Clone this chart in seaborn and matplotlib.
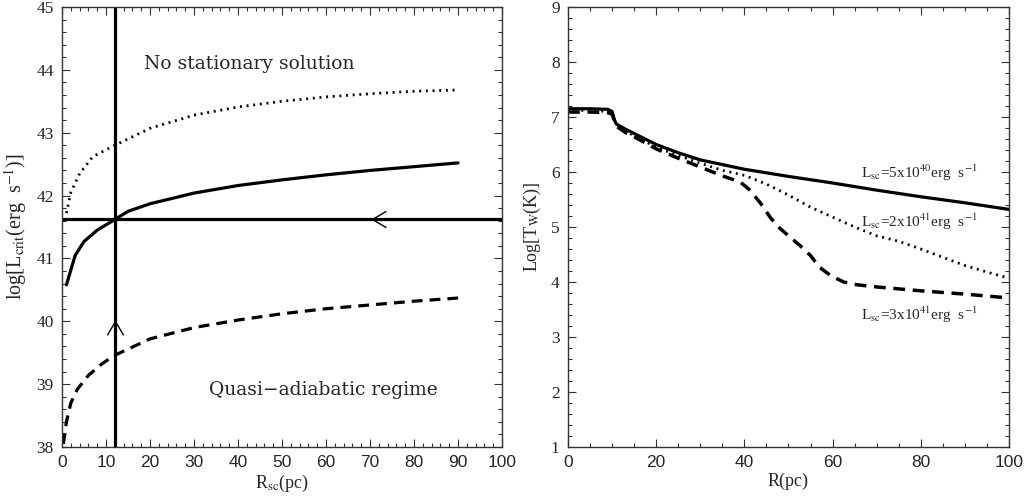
import numpy as np
import pandas as pd
import matplotlib
matplotlib.use("Agg")
import matplotlib.pyplot as plt
import matplotlib.path as mpath
from matplotlib.ticker import MultipleLocator
import seaborn as sns

# ---------------- data ----------------
# left panel: critical luminosity vs cluster radius
rsc_solid = [1, 3, 5, 8, 12, 15, 20, 30, 40, 50, 60, 70, 80, 90]
lcrit_solid = [40.58, 41.05, 41.27, 41.45, 41.62, 41.75, 41.87, 42.04, 42.16, 42.25, 42.33, 42.40, 42.46, 42.52]

rsc_dotted = [1, 2, 4, 7, 12, 20, 30, 40, 50, 60, 70, 80, 90]
lcrit_dotted = [41.72, 42.05, 42.35, 42.62, 42.80, 43.07, 43.28, 43.41, 43.50, 43.57, 43.62, 43.66, 43.68]

rsc_dashed = [0.3, 1, 2, 3.5, 6, 9, 12, 20, 30, 40, 50, 60, 70, 80, 90]
lcrit_dashed = [38.05, 38.4, 38.7, 38.92, 39.14, 39.32, 39.46, 39.72, 39.9, 40.02, 40.12, 40.2, 40.26, 40.32, 40.37]

crit_R = 12.0
crit_L = 41.62
arrow_left = (70.5, crit_L)
arrow_up = (crit_R, 40.0)

# right panel: wind temperature vs radius
R_solid = [0, 5, 9, 10, 10.5, 11, 13, 15, 20, 25, 30, 40, 50, 60, 70, 80, 90, 100]
T_solid = [7.15, 7.15, 7.14, 7.1, 6.95, 6.87, 6.78, 6.7, 6.5, 6.35, 6.22, 6.05, 5.92, 5.8, 5.67, 5.55, 5.44, 5.32]

R_dotted = [0, 5, 9, 10, 11, 13, 15, 20, 25, 30, 35, 40, 45, 50, 55, 60, 65, 70, 75, 80, 85, 90, 95, 100]
T_dotted = [7.12, 7.12, 7.1, 7.07, 6.85, 6.74, 6.66, 6.45, 6.3, 6.16, 6.03, 5.94, 5.78, 5.58, 5.36, 5.18,
            5.0, 4.84, 4.74, 4.6, 4.45, 4.3, 4.18, 4.07]

R_dashed = [0, 5, 9, 10, 11, 13, 15, 20, 25, 30, 35, 39, 41, 43.5, 46, 48, 50, 52.5, 55, 57, 59.5,
            62.5, 65.5, 70, 80, 90, 100]
T_dashed = [7.09, 7.09, 7.08, 7.05, 6.83, 6.72, 6.64, 6.42, 6.25, 6.09, 5.93, 5.82, 5.69, 5.45, 5.16,
            4.98, 4.84, 4.67, 4.48, 4.27, 4.12, 4.0, 3.95, 3.91, 3.84, 3.78, 3.71]

labels_right = [r"L$_{\rm sc}$=5x10$^{40}$erg  s$^{-1}$",
                r"L$_{\rm sc}$=2x10$^{41}$erg  s$^{-1}$",
                r"L$_{\rm sc}$=3x10$^{41}$erg  s$^{-1}$"]
labels_right_y = [5.98, 5.09, 3.4]

# ---------------- style ----------------
sns.set_style("ticks")
plt.rcParams["font.family"] = ["Liberation Serif", "DejaVu Serif"]
plt.rcParams["mathtext.fontset"] = "stix"

fig = plt.figure(figsize=(10.32, 4.97), dpi=100)
ax1 = fig.add_axes([0.0601, 0.1006, 0.4264, 0.8853])
ax2 = fig.add_axes([0.5504, 0.1006, 0.4273, 0.8853])

K = "black"
DOTS = (0, (0.7, 1.7))
DASH = (0, (3.4, 2.2))

# open chevron markers for the arrow heads
codes = [mpath.Path.MOVETO, mpath.Path.LINETO, mpath.Path.LINETO]
chev_left = mpath.Path([(1.7, 1), (0, 0), (1.7, -1)], codes)
chev_up = mpath.Path([(-1, -1.7), (0, 0), (1, -1.7)], codes)

# ---- left panel ----
sns.lineplot(x=rsc_solid, y=lcrit_solid, ax=ax1, color=K, lw=2.3, sort=False)
sns.lineplot(x=rsc_dotted, y=lcrit_dotted, ax=ax1, color=K, lw=2.0, sort=False, linestyle=DOTS)
sns.lineplot(x=rsc_dashed, y=lcrit_dashed, ax=ax1, color=K, lw=2.3, sort=False, linestyle=DASH)
ax1.axhline(crit_L, color=K, lw=2.3)
ax1.axvline(crit_R, color=K, lw=2.3)
ax1.plot([arrow_left[0]], [arrow_left[1]], marker=chev_left, ms=20, mfc="none", mec=K, mew=1.0, ls="none")
ax1.plot([arrow_up[0]], [arrow_up[1]], marker=chev_up, ms=20, mfc="none", mec=K, mew=1.0, ls="none")

ax1.text(42.6, 44.1, "No stationary solution", ha="center", va="center",
         fontsize=13.5, family="DejaVu Serif")
ax1.text(59.3, 38.9, "Quasi\u2212adiabatic regime", ha="center", va="center",
         fontsize=13.5, family="DejaVu Serif")

ax1.set_xlim(0, 100)
ax1.set_ylim(38, 45)
ax1.xaxis.set_major_locator(MultipleLocator(10))
ax1.xaxis.set_minor_locator(MultipleLocator(2))
ax1.yaxis.set_major_locator(MultipleLocator(1))
ax1.yaxis.set_minor_locator(MultipleLocator(0.2))
ax1.set_xlabel(r"R$_{\rm sc}$(pc)", fontsize=13, labelpad=2)
ax1.set_ylabel(r"log[L$_{\rm crit}$(erg  s$^{-1}$)]", fontsize=14.5, labelpad=5)

# ---- right panel ----
sns.lineplot(x=R_solid, y=T_solid, ax=ax2, color=K, lw=2.3, sort=False)
sns.lineplot(x=R_dotted, y=T_dotted, ax=ax2, color=K, lw=2.0, sort=False, linestyle=DOTS)
sns.lineplot(x=R_dashed, y=T_dashed, ax=ax2, color=K, lw=2.5, sort=False, linestyle=DASH)
for lab, yy in zip(labels_right, labels_right_y):
    ax2.text(93, yy, lab, ha="right", va="center", fontsize=11)

ax2.set_xlim(0, 100)
ax2.set_ylim(1, 9)
ax2.xaxis.set_major_locator(MultipleLocator(20))
ax2.xaxis.set_minor_locator(MultipleLocator(5))
ax2.yaxis.set_major_locator(MultipleLocator(1))
ax2.yaxis.set_minor_locator(MultipleLocator(0.2))
ax2.set_xlabel("R(pc)", fontsize=13, labelpad=2)
ax2.set_ylabel(r"Log[T$_{\rm W}$(K)]", fontsize=13, labelpad=6)

for ax in (ax1, ax2):
    for sp in ax.spines.values():
        sp.set_visible(True)
        sp.set_linewidth(1.0)
        sp.set_color("#333333")
    ax.tick_params(which="both", direction="in", top=True, right=True, color="#333333", width=0.8)
    ax.tick_params(which="major", length=6, labelsize=12.5, pad=6)
    ax.tick_params(which="minor", length=3)
    for t in ax.get_xticklabels():
        t.set_fontfamily("Liberation Sans")

fig.savefig("out.png", dpi=100)
